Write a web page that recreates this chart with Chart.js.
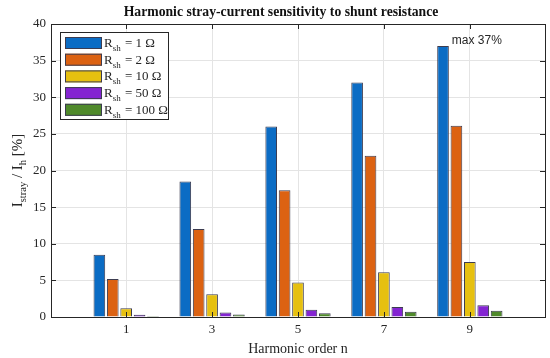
<!DOCTYPE html>
<html>
<head>
<meta charset="utf-8">
<script src="https://cdn.jsdelivr.net/npm/chart.js@4"></script>
<style>
  html, body { margin: 0; padding: 0; background: #fff; }
  #wrap { width: 550px; height: 358px; }
</style>
</head>
<body>
<div id="wrap"><canvas id="chart" width="550" height="358"></canvas></div>
<script>
const harmonics = [1, 3, 5, 7, 9];
const shuntLabels = ['1', '2', '10', '50', '100'];
const r1 = [8.5, 18.5, 26, 32, 37];
const r2 = [5.2, 12, 17.3, 22, 26.1];
const r10 = [1.2, 3.1, 4.7, 6.1, 7.5];
const r50 = [0.3, 0.6, 1.0, 1.35, 1.6];
const r100 = [0.15, 0.35, 0.5, 0.7, 0.85];
const yTicks = [0, 5, 10, 15, 20, 25, 30, 35, 40];

const colors = ['#0b6cc4', '#dc6212', '#e6c010', '#8424d2', '#4f8a2a'];
const serif = '"Liberation Serif", "Times New Roman", serif';
const axisColor = '#262626';

const series = [r1, r2, r10, r50, r100];

const datasets = series.map((vals, i) => ({
    label: 'Rsh = ' + shuntLabels[i] + ' Ω',
    data: harmonics.map((h, j) => ({ x: h, y: vals[j] })),
    backgroundColor: colors[i],
    borderColor: '#3c3c50',
    borderWidth: 1,
    categoryPercentage: 0.78,
    barPercentage: 0.87
}));

// title, box, inward ticks, legend with subscripts, y title, annotation
const extras = {
    id: 'extras',
    afterDraw(chart) {
        const ctx = chart.ctx;
        const a = chart.chartArea;
        const xs = chart.scales.x;
        const ys = chart.scales.y;
        ctx.save();

        // title
        ctx.fillStyle = '#111';
        ctx.font = 'bold 13.7px ' + serif;
        ctx.textAlign = 'center';
        ctx.textBaseline = 'middle';
        ctx.fillText('Harmonic stray-current sensitivity to shunt resistance', 281, 12);

        // box
        ctx.strokeStyle = axisColor;
        ctx.lineWidth = 1;
        ctx.strokeRect(Math.round(a.left) + 0.5, Math.round(a.top) + 0.5,
            Math.round(a.right - a.left), Math.round(a.bottom - a.top));

        // inward ticks
        ctx.beginPath();
        harmonics.forEach(h => {
            const px = Math.round(xs.getPixelForValue(h)) + 0.5;
            ctx.moveTo(px, a.bottom); ctx.lineTo(px, a.bottom - 5);
            ctx.moveTo(px, a.top); ctx.lineTo(px, a.top + 5);
        });
        yTicks.forEach(v => {
            const py = Math.round(ys.getPixelForValue(v)) + 0.5;
            ctx.moveTo(a.left, py); ctx.lineTo(a.left + 5, py);
            ctx.moveTo(a.right, py); ctx.lineTo(a.right - 5, py);
        });
        ctx.stroke();

        // annotation at the tallest bar
        const bar = chart.getDatasetMeta(0).data[4];
        ctx.fillStyle = axisColor;
        ctx.font = '12px "Liberation Sans", Arial, sans-serif';
        ctx.textAlign = 'left';
        ctx.textBaseline = 'alphabetic';
        ctx.fillText('max 37%', bar.x + bar.width / 2 + 3, bar.y - 2);

        // legend
        const lx = 60, ly = 32, lw = 108, lh = 87;
        ctx.fillStyle = '#fff';
        ctx.fillRect(lx, ly, lw, lh);
        ctx.strokeStyle = axisColor;
        ctx.strokeRect(lx + 0.5, ly + 0.5, lw, lh);
        shuntLabels.forEach((s, i) => {
            const cy = 43 + i * 16.7;
            ctx.fillStyle = colors[i];
            ctx.fillRect(65, cy - 6, 37, 12);
            ctx.strokeStyle = '#3c3c50';
            ctx.strokeRect(65.5, cy - 5.5, 36, 11);
            ctx.fillStyle = axisColor;
            ctx.textBaseline = 'alphabetic';
            ctx.font = '13px ' + serif;
            ctx.fillText('R', 104, cy + 4);
            let x = 104 + ctx.measureText('R').width;
            ctx.font = '9px ' + serif;
            ctx.fillText('sh', x, cy + 8);
            x += ctx.measureText('sh').width;
            ctx.font = '13px ' + serif;
            ctx.fillText(' = ' + s + ' Ω', x + 1, cy + 4);
        });

        // y axis title
        ctx.translate(18, (a.top + a.bottom) / 2);
        ctx.rotate(-Math.PI / 2);
        const parts = [['I', 15, 0], ['stray', 10.5, 4], [' / I', 15, 0], ['h', 10.5, 4], [' [%]', 15, 0]];
        let total = 0;
        parts.forEach(p => { ctx.font = p[1] + 'px ' + serif; total += ctx.measureText(p[0]).width; });
        let tx = -total / 2;
        parts.forEach(p => {
            ctx.font = p[1] + 'px ' + serif;
            ctx.fillText(p[0], tx, 4 + p[2]);
            tx += ctx.measureText(p[0]).width;
        });
        ctx.restore();
    }
};

new Chart(document.getElementById('chart').getContext('2d'), {
    type: 'bar',
    data: { datasets: datasets },
    plugins: [extras],
    options: {
        responsive: false,
        animation: false,
        layout: { padding: { left: 6, right: 5, top: 24, bottom: 0 } },
        plugins: {
            legend: { display: false },
            tooltip: { enabled: false },
            title: { display: false }
        },
        scales: {
            x: {
                type: 'linear',
                offset: false,
                min: -0.75,
                max: 10.75,
                afterBuildTicks: axis => { axis.ticks = harmonics.map(v => ({ value: v })); },
                afterFit: axis => { axis.height = 41; },
                grid: { color: '#e4e4e4', drawTicks: false, offset: false },
                border: { display: false },
                ticks: { color: axisColor, font: { family: serif, size: 13 }, padding: 5 },
                title: {
                    display: true,
                    text: 'Harmonic order n',
                    color: axisColor,
                    font: { family: serif, size: 14 },
                    padding: { top: 0, bottom: 0 }
                }
            },
            y: {
                min: 0,
                max: 40,
                afterBuildTicks: axis => { axis.ticks = yTicks.map(v => ({ value: v })); },
                afterFit: axis => { axis.width = 45; },
                grid: { color: '#e4e4e4', drawTicks: false },
                border: { display: false },
                ticks: { color: axisColor, font: { family: serif, size: 13 }, padding: 5 }
            }
        }
    }
});
</script>
</body>
</html>
